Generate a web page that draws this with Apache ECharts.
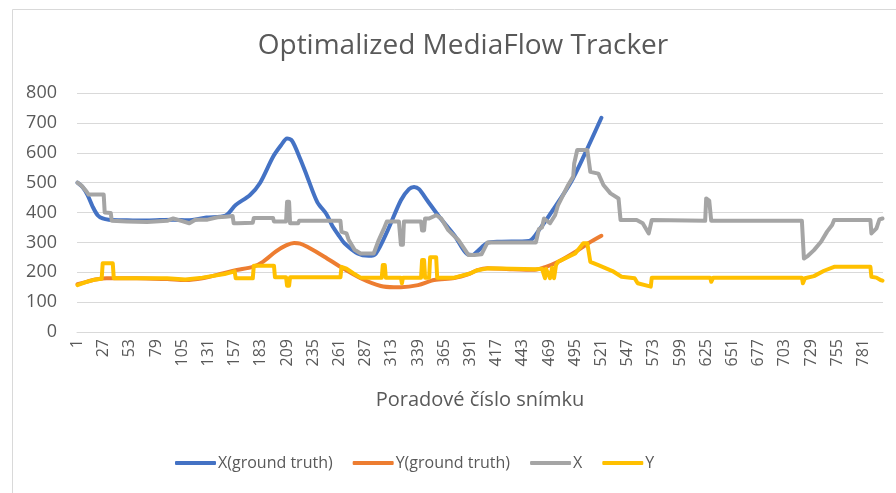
<!DOCTYPE html>
<html>
<head>
<meta charset="utf-8">
<script src="https://cdn.jsdelivr.net/npm/echarts@6/dist/echarts.min.js"></script>
<style>
html,body{margin:0;padding:0;background:#fff;}
#chart{width:896px;height:493px;}
</style>
</head>
<body>
<div id="chart"></div>
<script>
// Frame numbers on the category axis: 1..800
const frameCount = 800;
const frames = [];
for (let i = 1; i <= frameCount; i++) frames.push(String(i));

const yTicks = [0, 100, 200, 300, 400, 500, 600, 700, 800];

// [frame, value] readings
const xGroundTruth = [[1,500],[6,485],[11,458],[16,420],[21,391],[26,380],[32,376],[50,374],[70,373],[96,376],[110,374],[129,383],[148,390],[158,425],[172,458],[182,498],[195,586],[203,625],[209,648],[214,640],[222,580],[229,520],[239,435],[248,395],[254,355],[261,320],[266,297],[279,263],[290,255],[297,262],[309,341],[322,441],[330,478],[335,485],[340,478],[348,441],[360,386],[375,324],[388,260],[393,258],[398,270],[408,298],[420,302],[449,305],[459,341],[474,414],[491,503],[504,592],[521,717]];

const yGroundTruth = [[1,160],[10,168],[19,176],[30,180],[60,180],[90,177],[108,174],[125,180],[145,196],[158,207],[175,218],[185,235],[198,270],[208,290],[216,298],[222,296],[229,285],[246,252],[262,218],[282,180],[302,154],[315,150],[322,150],[339,157],[355,174],[375,181],[390,195],[398,207],[408,213],[430,210],[455,208],[466,218],[478,235],[495,268],[508,297],[521,322]];

const xTracked = [[1,500],[5,490],[10,470],[12,460],[27,460],[28,400],[34,398],[35,372],[50,370],[70,368],[90,372],[96,380],[104,372],[112,364],[118,376],[130,376],[140,384],[148,386],[155,388],[156,364],[160,364],[175,366],[176,382],[195,382],[196,370],[208,370],[209,436],[211,436],[212,364],[220,364],[221,372],[262,372],[263,335],[268,330],[270,310],[276,275],[282,263],[295,263],[300,308],[305,345],[308,370],[320,370],[322,292],[324,292],[325,370],[342,370],[343,340],[345,340],[346,380],[350,380],[357,391],[362,380],[369,341],[379,308],[389,258],[395,258],[402,260],[408,300],[456,300],[459,345],[462,350],[464,380],[470,364],[475,391],[478,425],[488,492],[493,520],[494,564],[497,609],[507,609],[510,536],[518,530],[523,492],[530,464],[538,447],[540,375],[556,375],[562,364],[568,330],[571,375],[624,372],[625,447],[628,440],[630,372],[720,372],[722,246],[726,255],[732,274],[739,302],[745,336],[750,358],[752,375],[788,375],[789,330],[794,347],[797,377],[800,380]];

const yTracked = [[1,157],[10,168],[19,176],[25,178],[26,230],[36,230],[37,180],[60,180],[90,180],[108,176],[125,182],[147,194],[157,203],[158,180],[175,180],[176,222],[196,222],[197,183],[208,183],[209,155],[211,155],[212,183],[262,183],[263,218],[268,212],[275,196],[282,182],[303,182],[304,224],[306,224],[307,182],[322,182],[323,163],[324,182],[342,182],[343,241],[345,241],[346,182],[350,182],[351,250],[357,250],[358,182],[375,182],[390,195],[398,207],[408,213],[456,210],[462,212],[465,180],[466,212],[470,180],[472,215],[474,180],[476,225],[478,235],[495,263],[503,297],[507,297],[510,235],[518,224],[532,204],[541,185],[554,180],[557,163],[570,152],[571,182],[629,182],[630,168],[632,182],[720,182],[721,163],[723,180],[732,187],[742,205],[752,218],[788,218],[789,185],[794,182],[798,174],[800,172]];

const seriesNames = ['X(ground truth)', 'Y(ground truth)', 'X', 'Y'];
const seriesColors = ['#4472C4', '#ED7D31', '#A5A5A5', '#FFC000'];

function toIdx(arr) { return arr.map(p => [p[0] - 1, p[1]]); }

const FONT = 'Open Sans';
const chart = echarts.init(document.getElementById('chart'), null, {renderer: 'canvas'});
const dataSets = [xGroundTruth, yGroundTruth, xTracked, yTracked];
chart.setOption({
  animation: false,
  backgroundColor: '#ffffff',
  graphic: [{
    type: 'rect', left: 10, top: 7,
    shape: {width: 900, height: 500},
    style: {fill: 'none', stroke: '#d9d9d9', lineWidth: 1},
    silent: true
  }],
  title: {
    text: 'Optimalized MediaFlow Tracker',
    left: 458, top: 27, textAlign: 'center',
    textStyle: {fontFamily: FONT, fontSize: 28, fontWeight: 'normal', color: '#595959'}
  },
  legend: {
    data: seriesNames,
    left: 170, top: 450,
    icon: 'roundRect',
    itemWidth: 41, itemHeight: 4, itemGap: 20,
    textStyle: {fontFamily: FONT, fontSize: 16, color: '#595959', padding: [0, 0, 0, -3]}
  },
  grid: {left: 77, right: 13, top: 93, bottom: 161, containLabel: false},
  xAxis: {
    type: 'category',
    data: frames,
    boundaryGap: true,
    name: 'Poradové číslo snímku',
    nameLocation: 'middle',
    nameGap: 58,
    nameTextStyle: {fontFamily: FONT, fontSize: 20, color: '#595959'},
    axisLine: {show: true, lineStyle: {color: '#d9d9d9', width: 1}},
    axisTick: {show: false},
    axisLabel: {interval: 25, rotate: 90, fontFamily: FONT, fontSize: 16, color: '#595959', margin: 7},
    splitLine: {show: false}
  },
  yAxis: {
    type: 'value',
    min: yTicks[0], max: yTicks[yTicks.length - 1], interval: 100,
    axisLine: {show: false},
    axisTick: {show: false},
    axisLabel: {fontFamily: FONT, fontSize: 18, color: '#595959', margin: 20},
    splitLine: {lineStyle: {color: '#d9d9d9', width: 1}}
  },
  series: dataSets.map((d, i) => ({
    name: seriesNames[i],
    type: 'line',
    data: toIdx(d),
    showSymbol: false,
    symbol: 'none',
    smooth: i < 2 ? 0.3 : false,
    color: seriesColors[i],
    lineStyle: {width: 4, color: seriesColors[i], cap: 'round', join: 'round'},
    emphasis: {disabled: true}
  }))
});
</script>
</body>
</html>
